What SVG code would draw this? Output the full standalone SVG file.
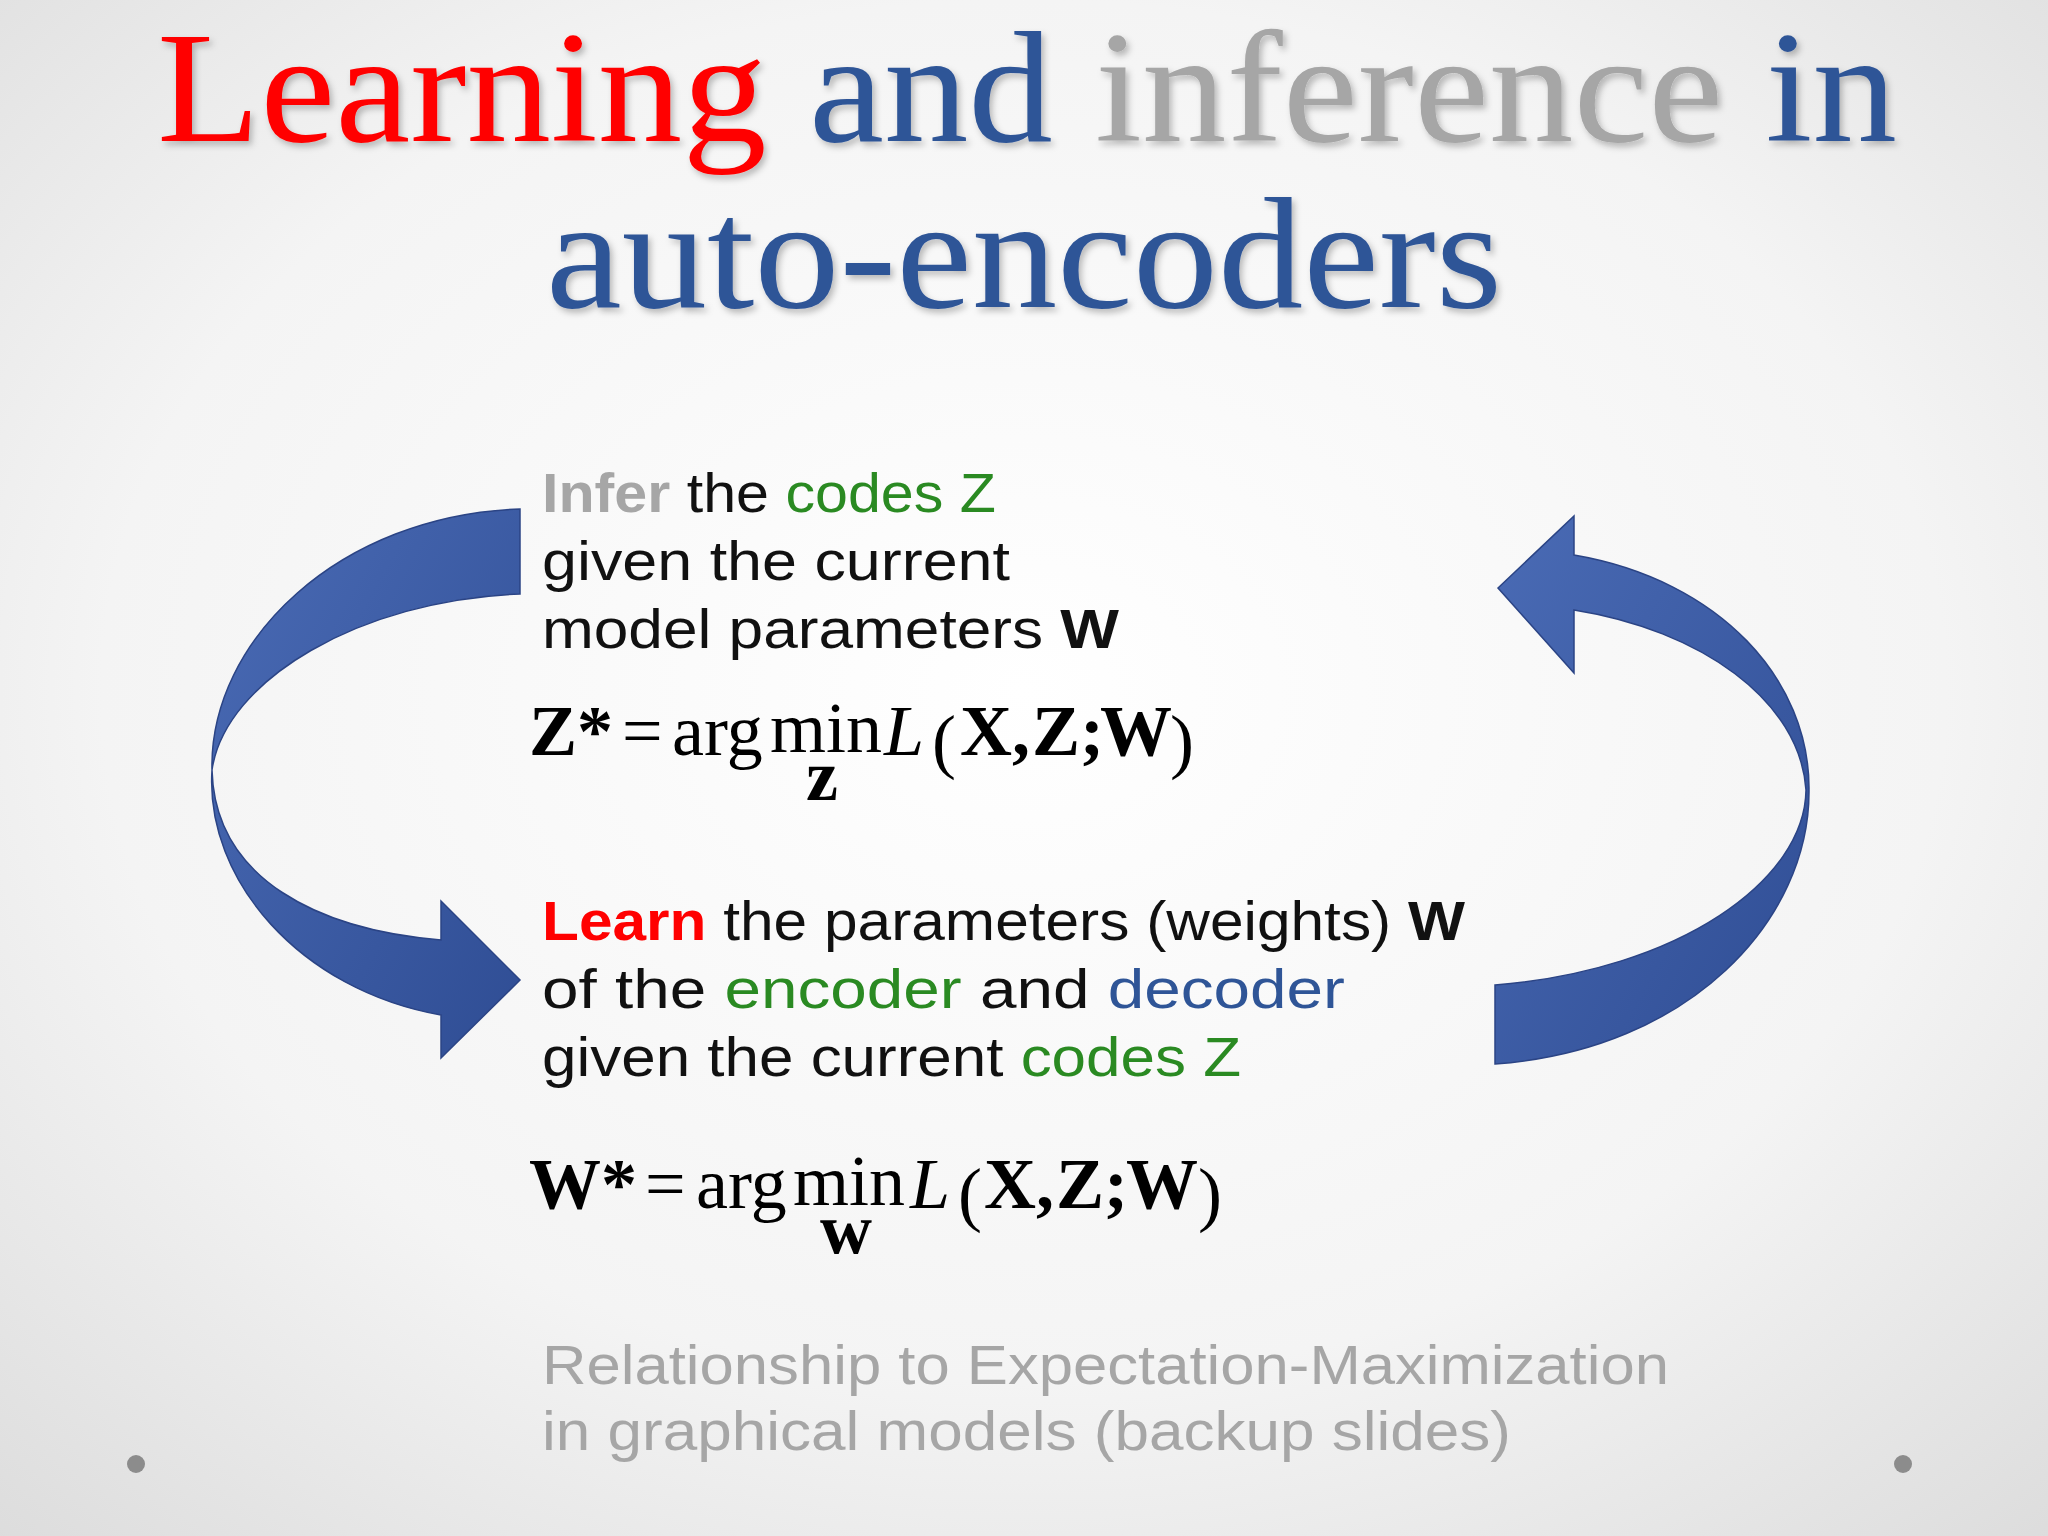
<svg xmlns="http://www.w3.org/2000/svg" width="2048" height="1536" viewBox="0 0 2048 1536">
<defs>
<radialGradient id="bg" cx="50%" cy="45%" r="75%">
<stop offset="0" stop-color="#ffffff"/><stop offset="0.6" stop-color="#f4f4f4"/><stop offset="1" stop-color="#dcdcdc"/>
</radialGradient>
<linearGradient id="ar" x1="0" y1="0" x2="1" y2="1">
<stop offset="0" stop-color="#4a6bb5"/><stop offset="1" stop-color="#2f4d94"/>
</linearGradient>
<filter id="sh" x="-5%" y="-5%" width="110%" height="120%"><feDropShadow dx="3" dy="4" stdDeviation="3" flood-color="#000" flood-opacity="0.25"/></filter>
</defs>
<style>
.t{font-family:"Liberation Serif",serif;font-size:158px}
.b{font-family:"Liberation Sans","DejaVu Sans",sans-serif;font-size:56px;fill:#111}
.f{font-family:"Liberation Serif",serif;font-size:72px;fill:#000}
.fb{font-weight:bold}
.g{fill:#2a8a22}.bl{fill:#2f5597}.gr{fill:#a6a6a6}.rd{fill:#ff0000}
.arrow{fill:url(#ar);stroke:#2b4485;stroke-width:1.5}
</style>
<rect width="2048" height="1536" fill="url(#bg)"/>
<g id="title" filter="url(#sh)">
<text class="t" x="157" y="141" textLength="1740" lengthAdjust="spacingAndGlyphs"><tspan fill="#ff0000">Learning</tspan><tspan fill="#2f5597"> and </tspan><tspan fill="#a6a6a6">inference</tspan><tspan fill="#2f5597"> in</tspan></text>
<text class="t" x="546" y="307" fill="#2f5597" textLength="956" lengthAdjust="spacingAndGlyphs">auto-encoders</text>
</g>
<g id="connectors">
<path id="arrow-left" class="arrow" d="M520,509 C340,515 209,640 212,770 C215,880 320,930 441,940 L441,901 L520,980 L441,1058 L441,1015 C300,990 205,880 212,770 C225,680 360,600 520,594 Z"/>
<path id="arrow-right" class="arrow" d="M1495,985 C1680,970 1805,880 1806,790 C1800,700 1700,630 1574,610 L1574,673 L1498,588 L1574,516 L1574,555 C1720,580 1810,680 1809,790 C1810,920 1690,1050 1495,1064 Z"/>
</g>
<g id="infer">
<text class="b" x="542" y="512" textLength="454" lengthAdjust="spacingAndGlyphs"><tspan class="gr fb">Infer</tspan> the <tspan class="g">codes Z</tspan></text>
<text class="b" x="542" y="580" textLength="468" lengthAdjust="spacingAndGlyphs">given the current</text>
<text class="b" x="542" y="648" textLength="577" lengthAdjust="spacingAndGlyphs">model parameters <tspan class="fb">W</tspan></text>
</g>
<g id="formula-z">
<text class="f fb" x="529" y="755">Z*</text>
<text class="f" x="622" y="755">=</text>
<text class="f" x="672" y="755">arg</text>
<text class="f" x="770" y="752">min</text>
<text class="f fb" x="822" y="800" font-size="40" text-anchor="middle">z</text>
<text class="f" x="884" y="755" font-style="italic">L</text>
<text class="f" x="932" y="765" font-size="100">(</text>
<text class="f fb" x="960" y="755">X,</text>
<text class="f fb" x="1032" y="755">Z;</text>
<text class="f fb" x="1100" y="755">W</text>
<text class="f" x="1170" y="765" font-size="100">)</text>
</g>
<g id="learn">
<text class="b" x="542" y="940" textLength="923" lengthAdjust="spacingAndGlyphs"><tspan class="rd fb">Learn</tspan> the parameters (weights) <tspan class="fb">W</tspan></text>
<text class="b" x="542" y="1008" textLength="803" lengthAdjust="spacingAndGlyphs">of the <tspan class="g">encoder</tspan> and <tspan class="bl">decoder</tspan></text>
<text class="b" x="542" y="1076" textLength="699" lengthAdjust="spacingAndGlyphs">given the current <tspan class="g">codes Z</tspan></text>
</g>
<g id="formula-w">
<text class="f fb" x="529" y="1208">W*</text>
<text class="f" x="645" y="1208">=</text>
<text class="f" x="696" y="1208">arg</text>
<text class="f" x="793" y="1205">min</text>
<text class="f fb" x="846" y="1253" font-size="40" text-anchor="middle">w</text>
<text class="f" x="910" y="1208" font-style="italic">L</text>
<text class="f" x="958" y="1218" font-size="100">(</text>
<text class="f fb" x="984" y="1208">X,</text>
<text class="f fb" x="1056" y="1208">Z;</text>
<text class="f fb" x="1126" y="1208">W</text>
<text class="f" x="1198" y="1218" font-size="100">)</text>
</g>
<g id="footer">
<text class="b gr" x="542" y="1384" textLength="1127" lengthAdjust="spacingAndGlyphs">Relationship to Expectation-Maximization</text>
<text class="b gr" x="542" y="1450" textLength="969" lengthAdjust="spacingAndGlyphs">in graphical models (backup slides)</text>
</g>
<circle cx="136" cy="1464" r="9" fill="#8c8c8c"/>
<circle cx="1903" cy="1464" r="9" fill="#8c8c8c"/>
</svg>
